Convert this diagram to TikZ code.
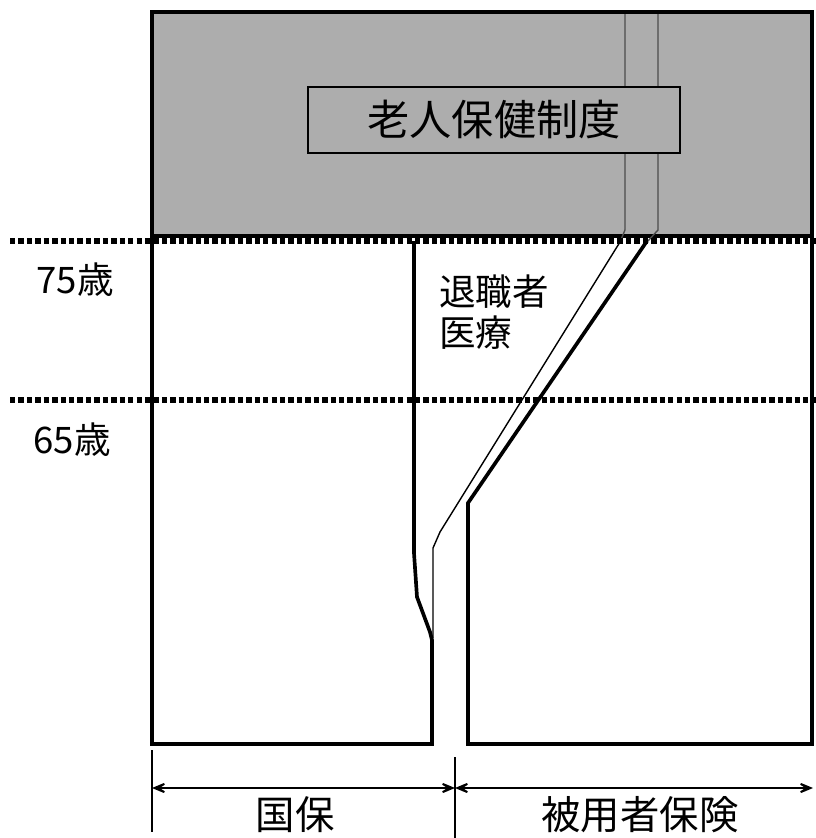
\documentclass[tikz,border=0pt]{standalone}
\usepackage{fontspec}
\newfontfamily\jp{Noto Sans CJK JP}
\usetikzlibrary{arrows.meta}

\begin{document}
\begin{tikzpicture}[x=0.025cm,y=-0.025cm,
    boxline/.style={line width=2.6pt},
    thinline/.style={line width=1pt},
    agelim/.style={line width=3.8pt, dash pattern=on 3.8pt off 2.2pt},
    dimarrow/.style={line width=1.5pt,
      {Stealth[length=5.5mm,width=4.6mm,inset=3.6mm]}-{Stealth[length=5.5mm,width=4.6mm,inset=3.6mm]}},
    agetxt/.style={font=\jp\fontsize{26}{26}\selectfont, inner sep=0pt},
    bigtxt/.style={font=\jp\fontsize{28}{28}\selectfont, inner sep=0pt}]
  \useasboundingbox (0,0) rectangle (816,838);

  % Draw the gray area on top
  \draw[boxline, fill=black!32] (152,12) rectangle (812,236);
  \draw[thinline, black!70] (625,14) -- (625,230) -- (620,242);
  \draw[thinline, black!70] (658,14) -- (658,230) -- (647,242);

  % Draw the age lines
  \draw[agelim] (10,241) -- (816,241);
  \draw[agelim] (10,400) -- (816,400);

  % Draw the two boxes
  \draw[boxline] (414,241) -- (414,553) -- (417,597) -- (430,632) -- (432,640)
    -- (432,744) -- (152,744) -- (152,236);
  \draw[boxline] (647,241) -- (468,503) -- (468,744) -- (812,744) -- (812,236);
  \draw[thinline] (620,242) -- (440,532) -- (433,548) -- (433,638);

  % Mark the labels
  \node[draw, line width=1.2pt, fill=black!32, minimum width=9.3cm, minimum height=1.65cm,
    font=\jp\fontsize{30}{30}\selectfont] (roujin) at (494,120) {老人保健制度};
  \node[agetxt] (a75) at (75,280) {75歳};
  \node[agetxt] (a65) at (72,440) {65歳};
  \node[agetxt, anchor=west] (taishoku) at (439,292) {退職者};
  \node[agetxt, anchor=west] (iryou) at (439,333) {医療};

  % Mark the widths
  \coordinate (k0) at (152,788);
  \coordinate (k1) at (455,788);
  \coordinate (k2) at (813,788);
  \draw[thinline] (152,750) -- (152,832);
  \draw[thinline] (455,757) -- (455,838);
  \draw[dimarrow] (k0) -- (k1);
  \draw[dimarrow] (k1) -- (k2);
  \node[bigtxt] (kokuho) at (295,815) {国保};
  \node[bigtxt] (hiyou) at (640,815) {被用者保険};
\end{tikzpicture}
\end{document}
